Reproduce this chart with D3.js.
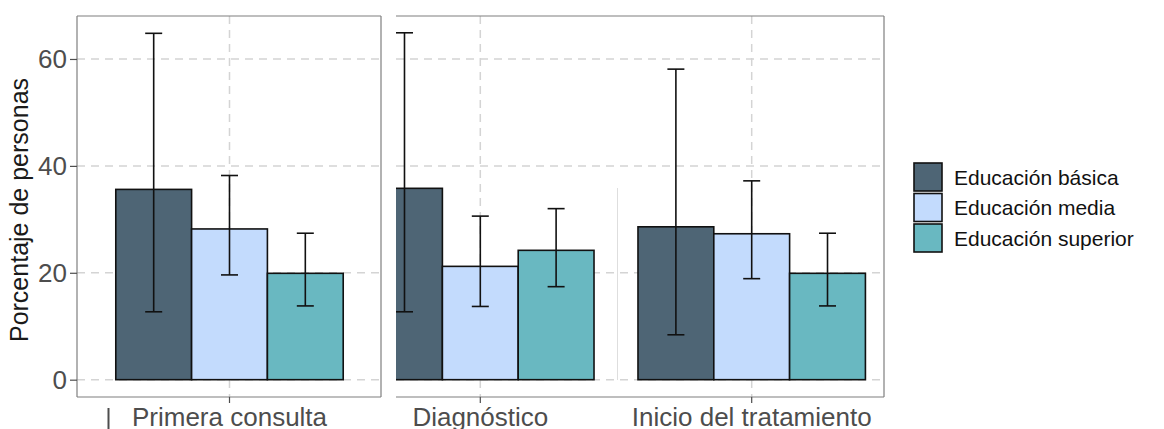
<!DOCTYPE html>
<html>
<head>
<meta charset="utf-8">
<script src="https://cdn.jsdelivr.net/npm/d3@7"></script>
<style>
  html, body { margin: 0; padding: 0; background: #fff; }
  svg { display: block; font-family: "Liberation Sans", Arial, Helvetica, sans-serif; }
</style>
</head>
<body>
<svg id="chart" width="1164" height="429"></svg>
<script>
// Education levels (fill groups)
const series = ["Educación básica", "Educación media", "Educación superior"];
const colors = ["#4e6575", "#c3dbfd", "#69b8c1"];

// Stages of care shown on the x axis
const stagesLeft = ["Primera consulta"];
const stagesRight = ["Diagnóstico", "Inicio del tratamiento"];

// Percentage of people per stage, one array per education level
const basica   = [35.6, 35.8, 28.6];
const media    = [28.2, 21.2, 27.3];
const superior = [19.9, 24.2, 19.9];

// Confidence interval bounds, same order
const basicaLow    = [12.7, 12.7, 8.4];
const basicaHigh   = [64.8, 64.9, 58.1];
const mediaLow     = [19.6, 13.7, 18.9];
const mediaHigh    = [38.2, 30.6, 37.2];
const superiorLow  = [13.8, 17.4, 13.8];
const superiorHigh = [27.4, 32.0, 27.4];

const yTicks = [0, 20, 40, 60];

const stages = stagesLeft.concat(stagesRight);
const values = [basica, media, superior];
const lows = [basicaLow, mediaLow, superiorLow];
const highs = [basicaHigh, mediaHigh, superiorHigh];

const rows = [];
stages.forEach((st, i) => {
  series.forEach((s, j) => {
    rows.push({ stage: st, series: s, idx: j, value: values[j][i], lo: lows[j][i], hi: highs[j][i] });
  });
});

const svg = d3.select("#chart");
const gridColor = "#d4d4d4";
const axisGray = "#4d4d4d";

const y = d3.scaleLinear().domain([-3.24, 68.04]).range([397, 16]);

// Two panels, each with its own band scale for the stages
const panels = [
  { id: "p1", stages: stagesLeft, x0: 77, x1: 381, range: [93.8, 365.2], drawLeft: true },
  { id: "p2", stages: stagesRight, x0: 396, x1: 884, range: [344.6, 887.4], drawLeft: false }
];

const defs = svg.append("defs");

panels.forEach(p => {
  const top = 16, bottom = 397;
  const xBand = d3.scaleBand().domain(p.stages).range(p.range).paddingInner(0).paddingOuter(0);
  const xSub = d3.scaleBand().domain(series).range([0, xBand.bandwidth()]).paddingInner(0).paddingOuter(0.29);

  defs.append("clipPath").attr("id", "clip-" + p.id)
    .append("rect").attr("x", p.x0).attr("y", top).attr("width", p.x1 - p.x0).attr("height", bottom - top);

  const g = svg.append("g").attr("clip-path", "url(#clip-" + p.id + ")");

  // horizontal grid
  g.selectAll("line.hgrid").data(yTicks).join("line")
    .attr("x1", p.x0).attr("x2", p.x1)
    .attr("y1", d => y(d)).attr("y2", d => y(d))
    .attr("stroke", gridColor).attr("stroke-width", 1.5).attr("stroke-dasharray", "8,6");

  // vertical grid at stage centres
  g.selectAll("line.vgrid").data(p.stages).join("line")
    .attr("x1", d => xBand(d) + xBand.bandwidth() / 2).attr("x2", d => xBand(d) + xBand.bandwidth() / 2)
    .attr("y1", top).attr("y2", bottom)
    .attr("stroke", gridColor).attr("stroke-width", 1.5).attr("stroke-dasharray", "8,6");

  const pr = rows.filter(r => p.stages.includes(r.stage));

  // bars
  g.selectAll("rect.bar").data(pr).join("rect")
    .attr("x", d => xBand(d.stage) + xSub(d.series))
    .attr("width", xSub.bandwidth())
    .attr("y", d => y(d.value))
    .attr("height", d => y(0) - y(d.value))
    .attr("fill", d => colors[d.idx])
    .attr("stroke", "#111").attr("stroke-width", 1.6);

  // error bars
  const cx = d => xBand(d.stage) + xSub(d.series) + xSub.bandwidth() / 2;
  const capW = 8.5;
  const eg = g.selectAll("g.err").data(pr).join("g").attr("stroke", "#111").attr("stroke-width", 1.6);
  eg.append("line").attr("x1", cx).attr("x2", cx).attr("y1", d => y(d.lo)).attr("y2", d => y(d.hi));
  eg.append("line").attr("x1", d => cx(d) - capW).attr("x2", d => cx(d) + capW).attr("y1", d => y(d.hi)).attr("y2", d => y(d.hi));
  eg.append("line").attr("x1", d => cx(d) - capW).attr("x2", d => cx(d) + capW).attr("y1", d => y(d.lo)).attr("y2", d => y(d.lo));

  // panel border
  const border = svg.append("g").attr("stroke", "#7f7f7f").attr("stroke-width", 1.2).attr("fill", "none");
  border.append("line").attr("x1", p.x0).attr("x2", p.x1).attr("y1", top).attr("y2", top);
  border.append("line").attr("x1", p.x0).attr("x2", p.x1).attr("y1", bottom).attr("y2", bottom);
  border.append("line").attr("x1", p.x1).attr("x2", p.x1).attr("y1", top).attr("y2", bottom);
  if (p.drawLeft) border.append("line").attr("x1", p.x0).attr("x2", p.x0).attr("y1", top).attr("y2", bottom);

  // x axis ticks and labels
  const xa = svg.append("g").attr("transform", `translate(0,${bottom})`)
    .call(d3.axisBottom(xBand).tickSize(6).tickPadding(4));
  xa.select(".domain").remove();
  xa.selectAll(".tick line").attr("stroke", axisGray).attr("stroke-width", 1.2);
  xa.selectAll(".tick text").attr("fill", axisGray).attr("font-size", 26)
    .attr("font-family", "Liberation Sans, Arial, sans-serif").attr("dy", "0.71em").attr("y", 11);
});

// thin light rule inside the right panel
svg.append("line").attr("x1", 617.5).attr("x2", 617.5).attr("y1", 188).attr("y2", 380)
  .attr("stroke", "#dedede").attr("stroke-width", 1);

// small mark under the left panel
svg.append("line").attr("x1", 108.5).attr("x2", 108.5).attr("y1", 408).attr("y2", 429)
  .attr("stroke", axisGray).attr("stroke-width", 2);

// y axis
const ya = svg.append("g").attr("transform", "translate(77,0)")
  .call(d3.axisLeft(y).tickValues(yTicks).tickSize(7).tickPadding(3));
ya.select(".domain").remove();
ya.selectAll(".tick line").attr("stroke", axisGray).attr("stroke-width", 1.2);
ya.selectAll(".tick text").attr("fill", axisGray).attr("font-size", 26)
  .attr("font-family", "Liberation Sans, Arial, sans-serif");

// y axis title
svg.append("text")
  .attr("transform", "translate(28,210) rotate(-90)")
  .attr("text-anchor", "middle")
  .attr("font-size", 25)
  .attr("fill", "#1a1a1a")
  .text("Porcentaje de personas");

// legend
const legend = svg.append("g").attr("transform", "translate(914,163)");
const li = legend.selectAll("g").data(series).join("g")
  .attr("transform", (d, i) => `translate(0,${i * 30.5})`);
li.append("rect").attr("width", 28).attr("height", 28)
  .attr("fill", (d, i) => colors[i]).attr("stroke", "#111").attr("stroke-width", 1.6);
li.append("text").attr("x", 40).attr("y", 14).attr("dy", "0.36em")
  .attr("font-size", 21).attr("fill", "#111").text(d => d);
</script>
</body>
</html>
